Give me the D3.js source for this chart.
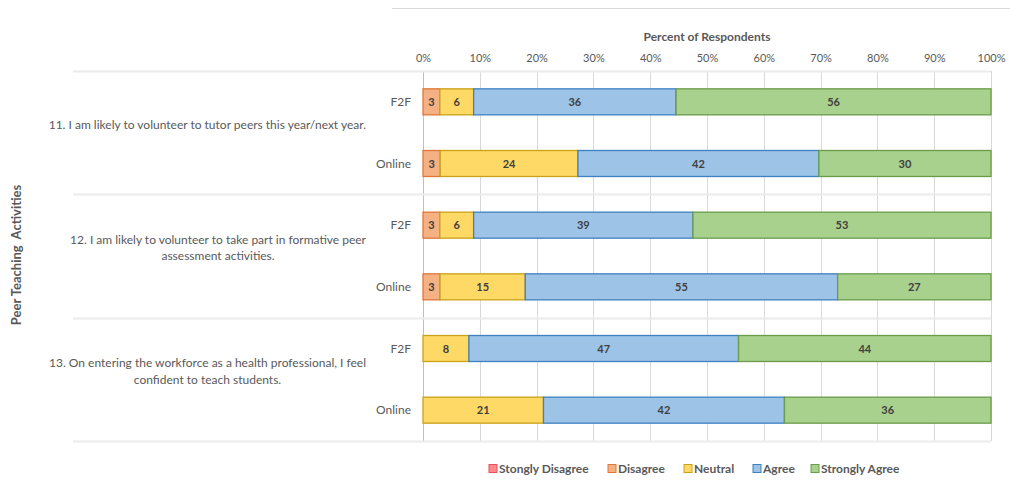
<!DOCTYPE html>
<html>
<head>
<meta charset="utf-8">
<script src="https://cdn.jsdelivr.net/npm/d3@7"></script>
<style>
  body { margin: 0; background: #fff; }
  text { font-family: Lato, "Open Sans", sans-serif; }
</style>
</head>
<body>
<script>
// data
var questions = [
    ["11. I am likely to volunteer to tutor peers this year/next year."],
    ["12. I am likely to volunteer to take part in formative peer", "assessment activities."],
    ["13. On entering the workforce as a health professional, I feel", "confident to teach students."]
];
var modes = ["F2F", "Online"];
var series = ["Stongly Disagree", "Disagree", "Neutral", "Agree", "Strongly Agree"];

// one value per bar, order: Q11 F2F, Q11 Online, Q12 F2F, Q12 Online, Q13 F2F, Q13 Online
var stronglyDisagree = [0, 0, 0, 0, 0, 0];
var disagree         = [3, 3, 3, 3, 0, 0];
var neutral          = [6, 24, 6, 15, 8, 21];
var agree            = [36, 42, 39, 55, 47, 42];
var stronglyAgree    = [56, 30, 53, 27, 44, 36];

var tickValues = [0, .1, .2, .3, .4, .5, .6, .7, .8, .9, 1];

var fills   = ["#ff8a8e", "#f4b183", "#ffd966", "#9dc3e6", "#a9d18e"];
var strokes = ["#e8505a", "#e0773a", "#c9a21a", "#3f80c0", "#6a9c4a"];

var width = 1010, height = 486;
var margins = {top: 71, left: 423, right: 19, bottom: 45};

var rows = [];
var cols = [stronglyDisagree, disagree, neutral, agree, stronglyAgree];
questions.forEach(function(q, qi){
    modes.forEach(function(m, mi){
        var i = qi * 2 + mi;
        var r = {q: qi, mode: m, key: qi + "-" + m};
        series.forEach(function(s, si){ r[s] = cols[si][i]; });
        rows.push(r);
    });
});

var stack = d3.stack().keys(series).offset(d3.stackOffsetExpand);
var layers = stack(rows);

var svg = d3.select("body").append("svg")
    .attr("width", width)
    .attr("height", height);

var bodyW = width - margins.left - margins.right;
var bodyH = height - margins.top - margins.bottom;

var x = d3.scaleLinear().domain([0, 1]).range([0, bodyW]);
var yGroup = d3.scaleBand().domain(d3.range(questions.length)).range([0, bodyH]);
var yMode = d3.scaleBand().domain(modes).range([0, yGroup.bandwidth()]);
var barH = 26;

// top border fragment
svg.append("line")
    .attr("x1", 392).attr("x2", width)
    .attr("y1", 8.5).attr("y2", 8.5)
    .attr("stroke", "#d9d9d9");

var body = svg.append("g")
    .attr("transform", "translate(" + margins.left + "," + margins.top + ")");

// gridlines
body.append("g").selectAll("line")
    .data(tickValues)
    .join("line")
    .attr("x1", function(d){ return Math.round(x(d)) + 0.5; })
    .attr("x2", function(d){ return Math.round(x(d)) + 0.5; })
    .attr("y1", 0).attr("y2", yGroup.range()[1])
    .attr("stroke", function(d){ return d === 0 ? "#bfbfbf" : "#d9d9d9"; });

// group separators
body.append("g").selectAll("line")
    .data(d3.range(questions.length + 1))
    .join("line")
    .attr("x1", 73 - margins.left).attr("x2", x(1))
    .attr("y1", function(d){ return Math.round(d * yGroup.step()) + 0.5; })
    .attr("y2", function(d){ return Math.round(d * yGroup.step()) + 0.5; })
    .attr("stroke", "#ebebeb")
    .attr("stroke-width", 2);

// top axis
var axis = d3.axisTop(x).tickValues(tickValues).tickFormat(d3.format(".0%")).tickSize(0).tickPadding(9);
var ax = body.append("g").call(axis);
ax.select(".domain").remove();
ax.selectAll("text")
    .attr("fill", "#595959")
    .style("font-size", "11px");

svg.append("text")
    .attr("x", margins.left + x(0.5))
    .attr("y", 41)
    .attr("text-anchor", "middle")
    .attr("fill", "#595959")
    .style("font-size", "12px")
    .style("font-weight", "bold")
    .text("Percent of Respondents");

function rowY(r){ return yGroup(r.q) + yMode(r.mode) + yMode.bandwidth() / 2 - barH / 2; }

// bars
var layerG = body.append("g").selectAll("g")
    .data(layers)
    .join("g")
    .attr("fill", function(d, i){ return fills[i]; })
    .attr("stroke", function(d, i){ return strokes[i]; });

layerG.selectAll("rect")
    .data(function(d){ return d.filter(function(p){ return p[1] - p[0] > 0; }); })
    .join("rect")
    .attr("x", function(p){ return x(p[0]); })
    .attr("width", function(p){ return x(p[1]) - x(p[0]); })
    .attr("y", function(p){ return rowY(p.data); })
    .attr("height", barH)
    .attr("stroke-width", 1.3);

// data labels
layers.forEach(function(layer){
    body.append("g").selectAll("text")
        .data(layer.filter(function(p){ return p[1] - p[0] > 0; }))
        .join("text")
        .attr("x", function(p){ return x((p[0] + p[1]) / 2); })
        .attr("y", function(p){ return rowY(p.data) + barH / 2 + 4; })
        .attr("text-anchor", "middle")
        .attr("fill", "#404040")
        .style("font-size", "11px")
        .style("font-weight", "bold")
        .text(function(p){ return p.data[layer.key]; });
});

// mode labels
body.append("g").selectAll("text")
    .data(rows)
    .join("text")
    .attr("x", -12)
    .attr("y", function(r){ return rowY(r) + barH / 2 + 4; })
    .attr("text-anchor", "end")
    .attr("fill", "#595959")
    .style("font-size", "12px")
    .text(function(r){ return r.mode; });

// question labels, block right edge at 366, lines centered in block
questions.forEach(function(lines, qi){
    var g = body.append("g");
    var cy = yGroup(qi) + yGroup.bandwidth() / 2 - 8;
    var lh = 16.5;
    var ts = g.selectAll("text")
        .data(lines)
        .join("text")
        .attr("y", function(d, i){ return cy + (i - (lines.length - 1) / 2) * lh + 4; })
        .attr("fill", "#595959")
        .style("font-size", "12px")
        .text(function(d){ return d; });
    var maxW = d3.max(ts.nodes(), function(n){ return n.getComputedTextLength(); });
    var center = 366 - margins.left - maxW / 2;
    ts.attr("x", center).attr("text-anchor", "middle");
});

// vertical title
svg.append("text")
    .attr("transform", "translate(21,255) rotate(-90)")
    .attr("text-anchor", "middle")
    .attr("fill", "#595959")
    .style("font-size", "13px")
    .style("font-weight", "bold")
    .style("white-space", "pre")
    .text("Peer Teaching  Activities");

// legend
var legendX = [489, 608, 684, 753, 811];
var leg = svg.append("g").selectAll("g")
    .data(series)
    .join("g")
    .attr("transform", function(d, i){ return "translate(" + legendX[i] + ",464)"; });
leg.append("rect")
    .attr("width", 8).attr("height", 8)
    .attr("y", 0.5)
    .attr("fill", function(d, i){ return fills[i]; })
    .attr("stroke", function(d, i){ return strokes[i]; });
leg.append("text")
    .attr("x", 10).attr("y", 9)
    .attr("fill", "#595959")
    .style("font-size", "12px")
    .style("font-weight", "bold")
    .text(function(d){ return d; });
</script>
</body>
</html>
